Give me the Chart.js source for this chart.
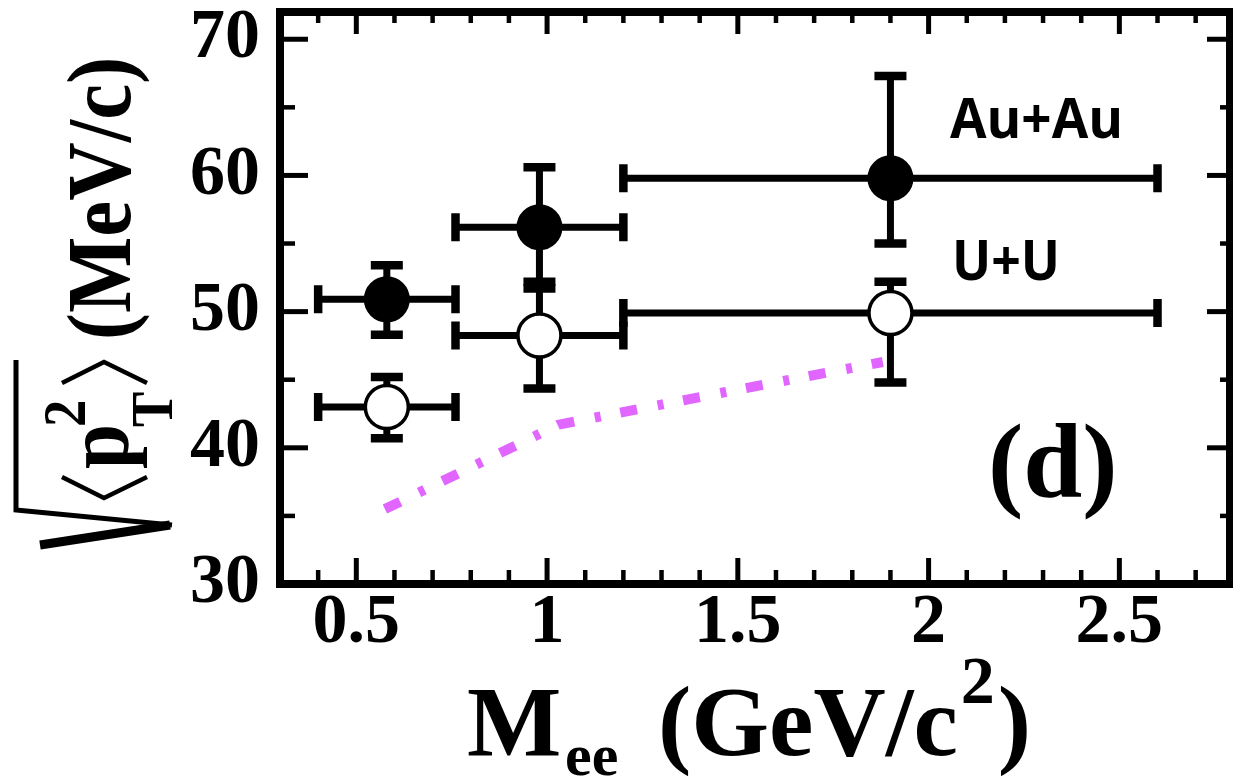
<!DOCTYPE html>
<html>
<head>
<meta charset="utf-8">
<script src="https://cdn.jsdelivr.net/npm/chart.js@4.4.1/dist/chart.umd.min.js"></script>
<style>
  html, body { margin: 0; padding: 0; background: #ffffff; }
  #wrap { width: 1233px; height: 776px; }
</style>
</head>
<body>
<div id="wrap"><canvas id="c" width="1233" height="776"></canvas></div>
<script>
// Mass bins (GeV/c^2): centre and bin edges
const massBins = [0.58, 0.98, 1.90];
const massLow  = [0.40, 0.76, 1.20];
const massHigh = [0.76, 1.20, 2.60];

// Au+Au: sqrt(<pT^2>) in MeV/c with error limits
const auauRms  = [50.9, 56.2, 59.8];
const auauLow  = [48.3, 52.2, 55.0];
const auauHigh = [53.4, 60.6, 67.3];

// U+U: sqrt(<pT^2>) in MeV/c with error limits
const uuRms  = [43.0, 48.25, 49.9];
const uuLow  = [40.7, 44.35, 44.8];
const uuHigh = [45.2, 51.7, 52.2];

// Model curve
const modelMass = [0.575, 1.03, 1.45, 1.88];
const modelRms  = [35.5, 41.7, 44.0, 46.3];

// Axis ticks
const xTicks = [0.5, 1, 1.5, 2, 2.5];
const xTickLabels = ['0.5', '1', '1.5', '2', '2.5'];
const yTicks = [30, 40, 50, 60, 70];
const yTickLabels = ['30', '40', '50', '60', '70'];
const xMinorTicks = [];
for (let i = 4; i <= 27; i++) { if (i % 5 !== 0) xMinorTicks.push(i / 10); }
const yMinorTicks = [35, 45, 55, 65];

const SERIF = '"Liberation Serif", "Times New Roman", serif';
const SANS = '"Open Sans", "Liberation Sans", sans-serif';

function drawErrorBars(ctx, xs, ys, xc, yc, xl, xh, yl, yh) {
  ctx.save();
  ctx.strokeStyle = '#000';
  ctx.lineCap = 'butt';
  for (let i = 0; i < xc.length; i++) {
    const px = xs.getPixelForValue(xc[i]);
    const py = ys.getPixelForValue(yc[i]);
    const x0 = xs.getPixelForValue(xl[i]);
    const x1 = xs.getPixelForValue(xh[i]);
    const y0 = ys.getPixelForValue(yl[i]);
    const y1 = ys.getPixelForValue(yh[i]);
    ctx.lineWidth = 7;
    ctx.beginPath();
    ctx.moveTo(x0, py); ctx.lineTo(x1, py);
    ctx.moveTo(px, y0); ctx.lineTo(px, y1);
    ctx.stroke();
    ctx.lineWidth = 8.5;
    ctx.beginPath();
    ctx.moveTo(x0, py - 14); ctx.lineTo(x0, py + 14);
    ctx.moveTo(x1, py - 14); ctx.lineTo(x1, py + 14);
    ctx.moveTo(px - 16, y0); ctx.lineTo(px + 16, y0);
    ctx.moveTo(px - 16, y1); ctx.lineTo(px + 16, y1);
    ctx.stroke();
  }
  ctx.restore();
}

const errorBarPlugin = {
  id: 'errorBars',
  beforeDatasetsDraw(chart) {
    const { ctx, scales } = chart;
    drawErrorBars(ctx, scales.x, scales.y, massBins, auauRms, massLow, massHigh, auauLow, auauHigh);
    drawErrorBars(ctx, scales.x, scales.y, massBins, uuRms, massLow, massHigh, uuLow, uuHigh);
  }
};

function fitText(ctx, text, x, y, width) {
  const w = ctx.measureText(text).width;
  ctx.save();
  ctx.translate(x, y);
  ctx.scale(width / w, 1);
  ctx.fillText(text, 0, 0);
  ctx.restore();
}

const framePlugin = {
  id: 'frame',
  afterDraw(chart) {
    const { ctx, chartArea: a, scales } = chart;
    const xs = scales.x, ys = scales.y;
    ctx.save();
    ctx.strokeStyle = '#000';
    ctx.fillStyle = '#000';

    // frame
    ctx.lineWidth = 8;
    ctx.strokeRect(a.left, a.top, a.right - a.left, a.bottom - a.top);

    // inward ticks on all four sides
    ctx.lineCap = 'butt';
    const tick = (x0, y0, x1, y1, w) => {
      ctx.lineWidth = w;
      ctx.beginPath(); ctx.moveTo(x0, y0); ctx.lineTo(x1, y1); ctx.stroke();
    };
    xTicks.forEach(v => {
      const p = xs.getPixelForValue(v);
      tick(p, a.bottom, p, a.bottom - 26, 5);
      tick(p, a.top, p, a.top + 22, 5);
    });
    xMinorTicks.forEach(v => {
      const p = xs.getPixelForValue(v);
      tick(p, a.bottom, p, a.bottom - 14, 4.5);
      tick(p, a.top, p, a.top + 11, 4.5);
    });
    yTicks.forEach(v => {
      const p = ys.getPixelForValue(v);
      tick(a.left, p, a.left + 28, p, 5);
      tick(a.right, p, a.right - 23, p, 5);
    });
    yMinorTicks.forEach(v => {
      const p = ys.getPixelForValue(v);
      tick(a.left, p, a.left + 15, p, 4.5);
      tick(a.right, p, a.right - 10, p, 4.5);
    });

    // x-axis title: M_ee (GeV/c^2)
    ctx.textBaseline = 'alphabetic';
    ctx.textAlign = 'left';
    ctx.font = 'bold 100px ' + SERIF;
    ctx.fillText('M', 467, 755);
    ctx.font = 'bold 60px ' + SERIF;
    ctx.fillText('ee', 565, 775);
    ctx.font = 'bold 100px ' + SERIF;
    let xpos = 658;
    ctx.fillText('(GeV/c', xpos, 755);
    xpos += ctx.measureText('(GeV/c').width + 3;
    ctx.font = 'bold 68px ' + SERIF;
    ctx.fillText('2', xpos, 703);
    xpos += ctx.measureText('2').width + 3;
    ctx.font = 'bold 100px ' + SERIF;
    ctx.fillText(')', xpos, 755);

    // y-axis title: sqrt(<p_T^2>) (MeV/c), rotated
    ctx.save();
    ctx.rotate(-Math.PI / 2);
    const sx = 0.88;
    const txt = (s, u, v, size) => {
      ctx.font = 'bold ' + size + 'px ' + SERIF;
      ctx.save(); ctx.translate(u, v); ctx.scale(sx, 1); ctx.fillText(s, 0, 0); ctx.restore();
    };
    txt('p', -469, 128, 92);
    txt('2', -427, 85, 62);
    txt('T', -427, 172, 60);
    txt('(MeV/c)', -340, 130, 92);
    ctx.lineJoin = 'miter';
    ctx.lineWidth = 4.5;
    ctx.beginPath();
    ctx.moveTo(-477, 62); ctx.lineTo(-498, 104); ctx.lineTo(-477, 147);
    ctx.moveTo(-383, 62); ctx.lineTo(-362, 104); ctx.lineTo(-383, 147);
    ctx.stroke();
    // radical sign
    ctx.lineWidth = 5;
    ctx.beginPath();
    ctx.moveTo(-360, 16); ctx.lineTo(-510, 16); ctx.lineTo(-525, 172);
    ctx.stroke();
    ctx.lineWidth = 9;
    ctx.beginPath();
    ctx.moveTo(-525, 170); ctx.lineTo(-545, 40);
    ctx.stroke();
    ctx.restore();

    // collision system labels
    ctx.font = 'bold 56px ' + SANS;
    fitText(ctx, 'Au+Au', 950, 138, 173);
    fitText(ctx, 'U+U', 952, 280, 108);

    // panel tag
    ctx.font = 'bold 106px ' + SERIF;
    ctx.fillText('(d)', 988, 497);

    ctx.restore();
  }
};

new Chart(document.getElementById('c'), {
  type: 'scatter',
  data: {
    datasets: [
      {
        label: 'Au+Au',
        data: massBins.map((m, i) => ({ x: m, y: auauRms[i] })),
        pointStyle: 'circle',
        pointRadius: 22,
        pointBackgroundColor: '#000000',
        pointBorderColor: '#000000',
        pointBorderWidth: 2,
        order: 1
      },
      {
        label: 'U+U',
        data: massBins.map((m, i) => ({ x: m, y: uuRms[i] })),
        pointStyle: 'circle',
        pointRadius: 21.5,
        pointBackgroundColor: '#ffffff',
        pointBorderColor: '#000000',
        pointBorderWidth: 3.5,
        order: 2
      },
      {
        label: 'model',
        data: modelMass.map((m, i) => ({ x: m, y: modelRms[i] })),
        showLine: true,
        borderColor: '#e066ff',
        borderWidth: 10,
        borderDash: [17, 21, 6, 20],
        borderCapStyle: 'butt',
        tension: 0,
        pointRadius: 0,
        fill: false,
        order: 3
      }
    ]
  },
  options: {
    responsive: false,
    animation: false,
    events: [],
    devicePixelRatio: 1,
    layout: { autoPadding: false, padding: { top: 12, right: 3, left: 0, bottom: 0 } },
    plugins: { legend: { display: false }, tooltip: { enabled: false } },
    scales: {
      x: {
        type: 'linear',
        min: 0.3,
        max: 2.79,
        grid: { display: false, drawTicks: false },
        border: { display: false },
        afterBuildTicks(scale) { scale.ticks = xTicks.map(v => ({ value: v })); },
        afterFit(scale) { scale.height = 192; scale.paddingLeft = 0; scale.paddingRight = 0; },
        ticks: {
          autoSkip: false,
          maxRotation: 0,
          minRotation: 0,
          padding: -2,
          color: '#000',
          font: { family: SERIF, weight: 'bold', size: 70, lineHeight: 1.2 },
          callback: (v, i) => xTickLabels[i]
        }
      },
      y: {
        type: 'linear',
        min: 30,
        max: 72,
        grid: { display: false, drawTicks: false },
        border: { display: false },
        afterBuildTicks(scale) { scale.ticks = yTicks.map(v => ({ value: v })); },
        afterFit(scale) { scale.width = 280; scale.paddingTop = 0; scale.paddingBottom = 0; },
        ticks: {
          padding: 20,
          color: '#000',
          font: { family: SERIF, weight: 'bold', size: 70, lineHeight: 1.2 },
          callback: (v, i) => yTickLabels[i]
        }
      }
    }
  },
  plugins: [errorBarPlugin, framePlugin]
});
</script>
</body>
</html>
